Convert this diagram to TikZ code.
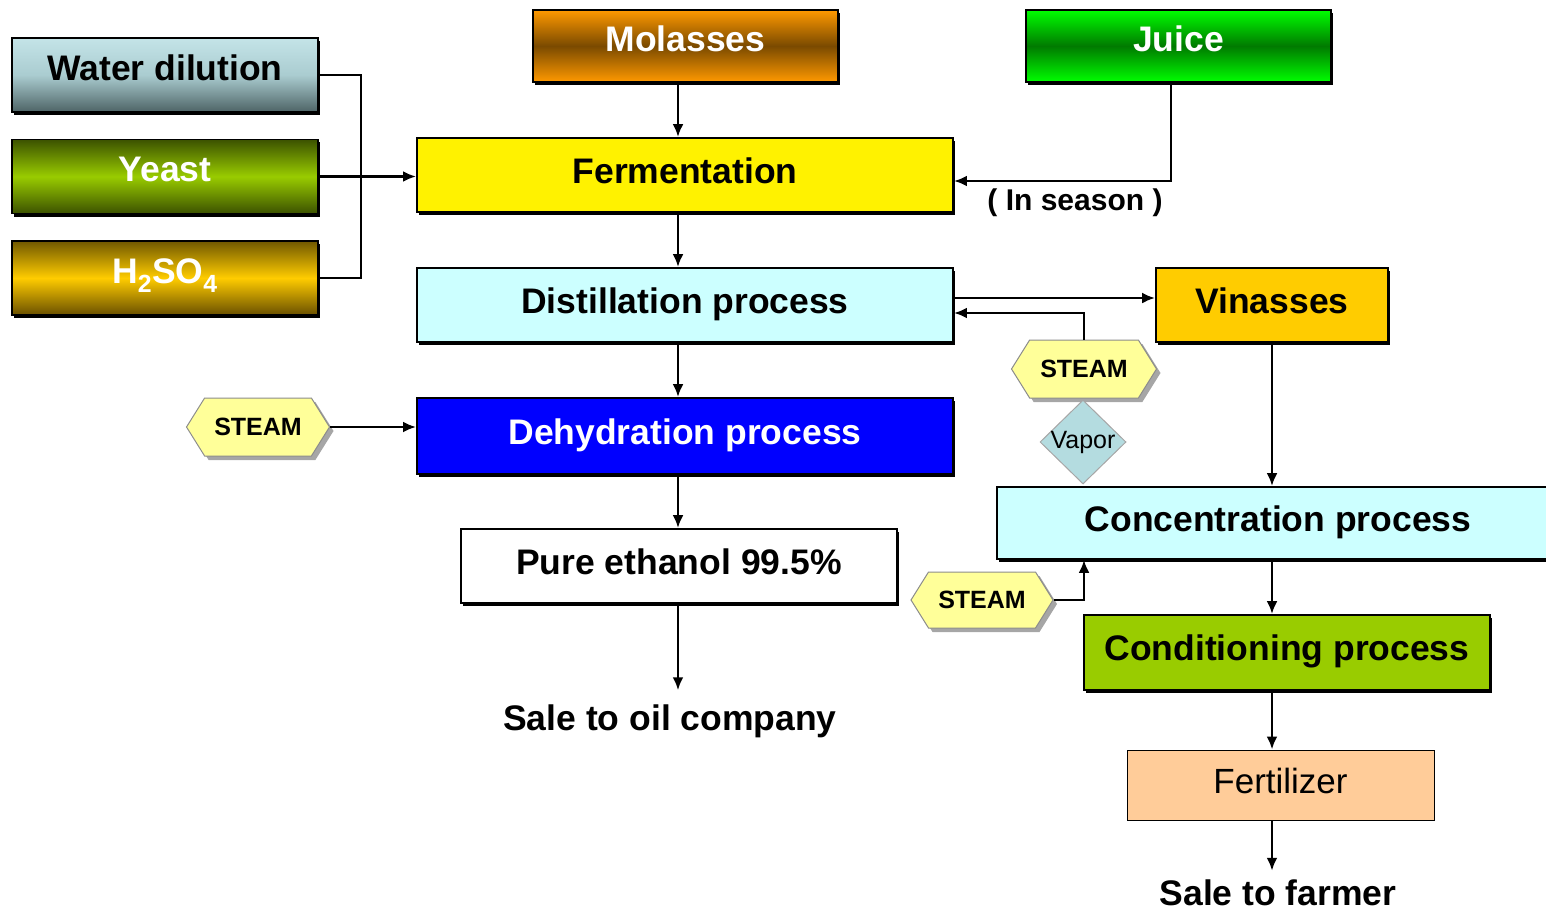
\documentclass[tikz,border=0pt]{standalone}
\usepackage{fontspec}
\setmainfont{Liberation Sans}
\usetikzlibrary{shapes.geometric,shapes.symbols,shadows,arrows.meta,calc}
\newcommand\myfs[1]{\fontsize{#1}{#1}\selectfont}
\definecolor{hexyellow}{HTML}{FFFF99}
\definecolor{vaporblue}{HTML}{B4DCE0}
\definecolor{lcyan}{HTML}{CCFFFF}
\definecolor{vinorange}{HTML}{FFCC00}
\definecolor{condgreen}{HTML}{99CC00}
\definecolor{fertpeach}{HTML}{FFCC99}
\begin{document}
\begin{tikzpicture}[x=1pt,y=-1pt,
  box/.style={draw=black, line width=1.8pt, inner sep=0pt, align=center,
    font=\myfs{35.5}\bfseries, text height=25pt, text depth=9pt,
    drop shadow={shadow xshift=1.5pt, shadow yshift=-3pt, fill=black, opacity=1}},
  gbox/.style={box, minimum width=306pt, minimum height=74pt, text=white, text depth=14pt},
  hexa/.style={signal, signal to=east and west, signal pointer angle=116,
    fill=hexyellow, draw=black!45, line width=1pt, inner sep=0pt,
    font=\myfs{25}\bfseries,
    drop shadow={shadow xshift=4pt, shadow yshift=-4pt, fill=black!35, opacity=1}},
  plain/.style={font=\myfs{35.5}\bfseries, inner sep=0pt},
  ln/.style={draw=black, line width=2.6pt},
  arr/.style={ln, -{Latex[length=13pt,width=11pt]}}
]
\useasboundingbox (0,0) rectangle (1546,912);

% left inputs
\node[gbox, text=black, top color={rgb,255:red,196;green,228;blue,232},
      bottom color={rgb,255:red,78;green,100;blue,102},
      middle color={rgb,255:red,170;green,204;blue,208}] (water) at (165,75) {Water dilution};
\node[gbox, top color={rgb,255:red,60;green,82;blue,0},
      bottom color={rgb,255:red,60;green,82;blue,0},
      middle color=condgreen] (yeast) at (165,176.5) {Yeast};
\node[gbox, top color={rgb,255:red,112;green,88;blue,0},
      bottom color={rgb,255:red,106;green,80;blue,0},
      middle color=vinorange] (acid) at (165,278) {H\textsubscript{2}SO\textsubscript{4}};

% top inputs
\node[gbox, minimum width=305pt, minimum height=72pt,
      top color={rgb,255:red,255;green,153;blue,0},
      bottom color={rgb,255:red,255;green,153;blue,0},
      middle color={rgb,255:red,122;green,74;blue,0}] (molasses) at (685.5,46) {Molasses};
\node[gbox, minimum width=305pt, minimum height=72pt,
      top color={rgb,255:red,0;green,255;blue,0},
      bottom color={rgb,255:red,0;green,255;blue,0},
      middle color={rgb,255:red,0;green,122;blue,0}] (juice) at (1178.5,46) {Juice};

% main column
\node[box, fill=yellow, minimum width=536pt, minimum height=74pt] (ferm) at (685,175) {Fermentation};
\node[box, fill=lcyan, minimum width=536pt, minimum height=74pt] (dist) at (685,305) {Distillation process};
\node[box, fill=blue, text=white, minimum width=536pt, minimum height=76pt] (dehyd) at (685,436) {Dehydration process};
\node[box, fill=white, minimum width=436pt, minimum height=74pt] (pure) at (679,566) {Pure ethanol 99.5\%};
\node[plain] (saleoil) at (670,721) {Sale to oil company};

% right column
\node[box, fill=vinorange, minimum width=232pt, minimum height=74pt] (vin) at (1272,305) {Vinasses};
\node[hexa, minimum width=145pt, minimum height=58pt] (steamA) at (1084,369) {STEAM};
\node[diamond, fill=vaporblue, draw=black!35, line width=1pt, minimum width=86pt,
      minimum height=84pt, inner sep=0pt, font=\myfs{25}] (vapor) at (1083,442) {\makebox[0pt]{Vapor}};
\node[box, fill=lcyan, minimum width=562pt, minimum height=72pt] (conc) at (1278,523) {Concentration process};
\node[hexa, minimum width=142pt, minimum height=56pt] (steamB) at (982,600) {STEAM};
\node[box, fill=condgreen, minimum width=406pt, minimum height=75pt] (cond) at (1287,652.5) {Conditioning process};
\node[draw=black, line width=1pt, fill=fertpeach, minimum width=307pt, minimum height=70pt,
      inner sep=0pt, font=\myfs{35}, text height=25pt, text depth=9pt] (fert) at (1280.5,785) {Fertilizer};
\node[plain] (salefarm) at (1278,893) {Sale to farmer};

% left steam
\node[hexa, minimum width=143pt, minimum height=58pt] (steamC) at (258,427) {STEAM};

\node[font=\myfs{30}\bfseries, inner sep=0pt] (season) at (1075,203) {( In season )};

% helper coordinates
\coordinate (jn) at (361,176);
\coordinate (cx) at (678,0);
\coordinate (jc) at (1171,0);
\coordinate (rx) at (1272,0);
\coordinate (sx) at (1084,0);

% connectors
\draw[ln] (water.east) -- (water.east -| jn) |- (acid.east);
\draw[arr] (yeast.east) -- (yeast.east -| ferm.west);
\draw[arr] (molasses.south -| cx) -- (ferm.north -| cx);
\draw[arr] (juice.south -| jc) |- ([yshift=-6pt]ferm.east);
\draw[arr] (ferm.south -| cx) -- (dist.north -| cx);
\draw[arr] ([yshift=7pt]dist.east) -- ([yshift=7pt]dist.east -| vin.west);
\draw[arr] (steamA.north) |- ([yshift=-8pt]dist.east);
\draw[arr] (dist.south -| cx) -- (dehyd.north -| cx);
\draw[arr] (steamC.east) -- (steamC.east -| dehyd.west);
\draw[arr] (dehyd.south -| cx) -- (pure.north -| cx);
\draw[arr] (pure.south -| cx) -- ([yshift=14pt]saleoil.north -| cx);
\draw[arr] (vin.south -| rx) -- (conc.north -| rx);
\draw[arr] (steamB.east) -| (conc.south -| sx);
\draw[arr] (conc.south -| rx) -- (cond.north -| rx);
\draw[arr] (cond.south -| rx) -- (fert.north -| rx);
\draw[arr] (fert.south -| rx) -- ([yshift=9pt]salefarm.north -| rx);
\end{tikzpicture}
\end{document}
